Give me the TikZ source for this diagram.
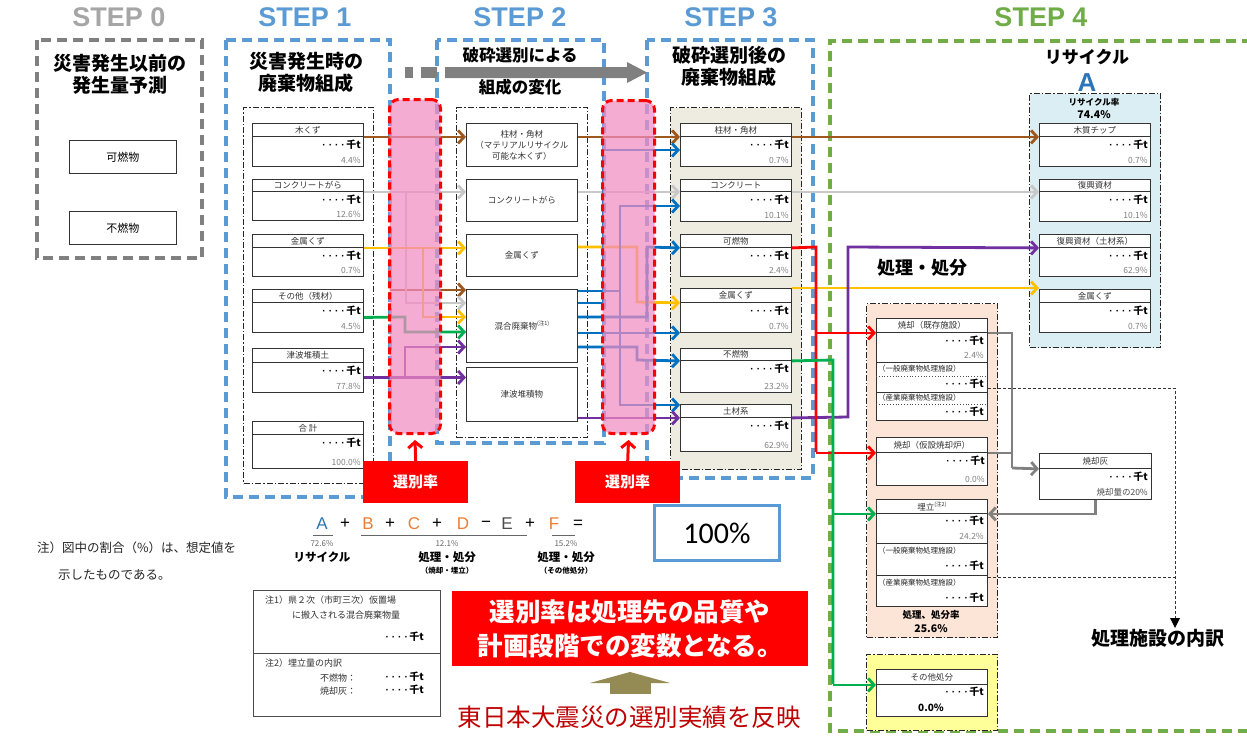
\documentclass[tikz,border=0pt]{standalone}
\usepackage{fontspec}
\setmainfont{Noto Sans CJK JP}
\newfontfamily\latf{Liberation Sans}
\newfontfamily\calf{Carlito}
\usetikzlibrary{arrows.meta,calc}
\definecolor{brownc}{RGB}{158,88,30}
\definecolor{grayc}{RGB}{200,200,200}
\definecolor{yelc}{RGB}{255,192,0}
\definecolor{greenc}{RGB}{0,176,80}
\definecolor{purc}{RGB}{112,48,160}
\definecolor{bluec}{RGB}{0,112,192}
\definecolor{redc}{RGB}{255,0,0}
\definecolor{ashc}{RGB}{128,128,128}
\definecolor{stepblue}{RGB}{91,155,213}
\definecolor{stepgreen}{RGB}{112,173,71}
\definecolor{stepgray}{RGB}{128,128,128}
\definecolor{steptext}{RGB}{166,166,166}
\definecolor{pinkc}{RGB}{242,140,195}
\definecolor{beigec}{RGB}{238,236,225}
\definecolor{recyc}{RGB}{218,238,243}
\definecolor{procc}{RGB}{252,228,214}
\definecolor{othc}{RGB}{255,255,153}
\definecolor{blueA}{RGB}{46,117,182}
\definecolor{orangec}{RGB}{237,125,49}
\definecolor{olivec}{RGB}{148,138,84}
\definecolor{darkred}{RGB}{192,0,0}
\newcommand\fsz[2]{\fontsize{#1}{#2}\selectfont}
\newcommand\qdots{{\latf\bfseries ·\hspace{3pt}·\hspace{3pt}·\hspace{3pt}·\hspace{1.5pt}}\textbf{千t}}
\newcommand\mkbox[7]{%
  \node[hbox, minimum height={#4-#3}] (#1) at (#2,#3) {#6};
  \node[bbox, minimum height={#5-#4}] (#1b) at (#2,#4) {};
  \node[qty] (#1q) at ($(#1b.north east)+(-3,9)$) {\qdots};
  \node[pct] (#1p) at ($(#1b.south east)+(-3,-7)$) {#7};
}
\begin{document}
\begin{tikzpicture}[x=1pt,y=-1pt,
  stepframe/.style={line width=3.5pt, dash pattern=on 10pt off 6pt},
  ddbox/.style={draw=black!85, line width=1.1pt, dash pattern=on 6pt off 2pt on 1.5pt off 2pt, inner sep=0pt, anchor=north west},
  hbox/.style={draw=black!80, line width=0.9pt, minimum width=111pt, inner sep=0pt, anchor=north west, font=\fsz{8.5}{9}, text=black!80, fill=white},
  bbox/.style={draw=black!80, line width=0.9pt, minimum width=111pt, inner sep=0pt, anchor=north west, fill=white},
  qty/.style={anchor=east, inner sep=0pt, font=\fsz{10}{10}},
  pct/.style={anchor=east, inner sep=0pt, font=\fsz{8.5}{10}, text=black!50},
  sub/.style={anchor=west, inner sep=0pt, font=\fsz{7.5}{9}, text=black!85},
  s2box/.style={draw=black!80, line width=0.9pt, minimum width=111pt, inner sep=0pt, anchor=north west, align=center, font=\fsz{8.5}{11}, text=black!80, fill=white},
  conn/.style={line width=2.8pt},
  arr/.style={-{Straight Barb[length=6pt,width=13pt]}},
  title/.style={font=\bfseries\fsz{19}{22}, align=center, inner sep=0pt},
  steplbl/.style={font=\latf\bfseries\fsz{27}{30}, inner sep=0pt},
  selbox/.style={fill=red, text=white, font=\bfseries\fsz{15}{18}, minimum width=105pt, minimum height=42pt, inner sep=0pt, anchor=north west},
  band/.style={draw=red, line width=3pt, dash pattern=on 7pt off 4pt, rounded corners=9pt, fill=pinkc, fill opacity=0.72, inner sep=0pt, anchor=north west},
  flab/.style={font=\latf\fsz{17}{18}, inner sep=0pt},
  small/.style={font=\fsz{8}{9}, text=black!60, inner sep=0pt},
  blab/.style={font=\bfseries\fsz{11.5}{12}, inner sep=0pt},
  note/.style={font=\fsz{9}{10}, text=black!80, inner sep=0pt, anchor=west},
]
\useasboundingbox[fill=white] (0,0) rectangle (1247,736);

% ---------- step frames ----------
\draw[stepframe, stepgray] (37,40) rectangle (202,258);
\draw[stepframe, stepblue] (226,40) rectangle (390,497);
\draw[stepframe, stepblue] (437,40) rectangle (604,443);
\draw[stepframe, stepblue] (647,40) rectangle (813,478);
\draw[stepframe, stepgreen] (1252,41) -- (830,41) -- (830,731) -- (1252,731);

% ---------- step labels ----------
\node[steplbl, text=steptext] (st0) at (119,17) {STEP 0};
\node[steplbl, text=stepblue] (st1) at (305,17) {STEP 1};
\node[steplbl, text=stepblue] (st2) at (520,17) {STEP 2};
\node[steplbl, text=stepblue] (st3) at (731,17) {STEP 3};
\node[steplbl, text=stepgreen] (st4) at (1041,17) {STEP 4};

% ---------- titles ----------
\node[title] (t0) at (120,74) {災害発生以前の\\発生量予測};
\node[title] (t1) at (306,72) {災害発生時の\\廃棄物組成};
\node[title] (t3) at (729,66) {破砕選別後の\\廃棄物組成};
\node[font=\bfseries\fsz{16.5}{18}, inner sep=0pt] (t2a) at (520,55) {破砕選別による};
\node[font=\bfseries\fsz{16.5}{18}, inner sep=0pt] (t2b) at (520,87) {組成の変化};
% big grey arrow
\fill[ashc] (405,67) rectangle (413,78);
\fill[ashc] (421,67) rectangle (437,78);
\fill[ashc] (445,67) -- (627,67) -- (627,62) -- (647,72.5) -- (627,83) -- (627,78) -- (445,78) -- cycle;

% ---------- STEP 0 ----------
\node[draw=black!80, line width=0.9pt, minimum width=107pt, minimum height=33pt, anchor=north west, font=\fsz{11}{12}, inner sep=0pt] (k0) at (69,140) {可燃物};
\node[draw=black!80, line width=0.9pt, minimum width=107pt, minimum height=33pt, anchor=north west, font=\fsz{11}{12}, inner sep=0pt] (f0) at (69,211) {不燃物};

% ---------- inner dash-dot boxes ----------
\node[ddbox, minimum width=130pt, minimum height=376pt] (in1) at (243,107) {};
\node[ddbox, minimum width=131pt, minimum height=330pt] (in2) at (456,107) {};
\node[ddbox, fill=beigec, minimum width=131pt, minimum height=362pt] (in3) at (670,107) {};
\node[ddbox, fill=recyc, minimum width=131pt, minimum height=254pt] (in4) at (1029,93) {};
\node[ddbox, fill=procc, minimum width=131pt, minimum height=334pt] (in5) at (866,303) {};
\node[ddbox, fill=othc, minimum width=131pt, minimum height=76pt] (in6) at (866,654) {};

% ---------- STEP 1 boxes ----------
\mkbox{s1a}{252}{123}{136}{166}{木くず}{4.4\%}
\mkbox{s1b}{252}{179}{191}{220}{コンクリートがら}{12.6\%}
\mkbox{s1c}{252}{234}{247}{276}{金属くず}{0.7\%}
\mkbox{s1d}{252}{289}{302}{332}{その他（残材）}{4.5\%}
\mkbox{s1e}{252}{348}{362}{392}{津波堆積土}{77.8\%}
\mkbox{s1f}{252}{421}{434}{468}{合\ 計}{100.0\%}

% ---------- STEP 2 boxes ----------
\node[s2box, minimum height=43pt] (s2a) at (466,123) {柱材・角材\\（マテリアルリサイクル\\可能な木くず）};
\node[s2box, minimum height=42pt] (s2b) at (466,179) {コンクリートがら};
\node[s2box, minimum height=42pt] (s2c) at (466,234) {金属くず};
\node[s2box, minimum height=73pt] (s2d) at (466,289) {混合廃棄物\raisebox{4pt}{\fsz{5.5}{6}(注1)}};
\node[s2box, minimum height=54pt] (s2e) at (466,367) {津波堆積物};

% ---------- STEP 3 boxes ----------
\mkbox{s3a}{680}{123}{136}{166}{柱材・角材}{0.7\%}
\mkbox{s3b}{680}{179}{191}{221}{コンクリート}{10.1\%}
\mkbox{s3c}{680}{234}{247}{276}{可燃物}{2.4\%}
\mkbox{s3d}{680}{288}{302}{332}{金属くず}{0.7\%}
\mkbox{s3e}{680}{348}{360}{392}{不燃物}{23.2\%}
\mkbox{s3f}{680}{404}{417}{451}{土材系}{62.9\%}

% ---------- connectors STEP1 -> STEP2 ----------
\coordinate (b2s) at (390,290);
\coordinate (g1) at (406,191);
\coordinate (g1e) at (406,303);
\coordinate (y1) at (423,247);
\coordinate (y1e) at (423,317);
\coordinate (gr1) at (405,317);
\coordinate (gr1e) at (405,332);
\coordinate (pa) at (405,377);
\coordinate (pb) at (405,347);
\draw[conn,brownc,arr] (s1a.south east) -- (s1a.south east -| s2a.west);
\draw[conn,brownc,arr] (b2s) -- (b2s -| s2d.west);
\draw[conn,grayc,arr] (s1b.south east) -- (s1b.south east -| s2b.west);
\draw[conn,grayc,arr] (g1) -- (g1e) -- (g1e -| s2d.west);
\draw[conn,yelc,arr] (s1c.south east) -- (s1c.south east -| s2c.west);
\draw[conn,yelc,arr] (y1) -- (y1e) -- (y1e -| s2d.west);
\draw[conn,greenc,arr] (s1db.east) -- (gr1) -- (gr1e) -- (gr1e -| s2d.west);
\draw[conn,purc,arr] (s1eb.east) -- (s1eb.east -| s2e.west);
\draw[conn,purc,arr] (pa) -- (pb) -- (pb -| s2d.west);

% ---------- connectors STEP2 -> STEP3 ----------
\coordinate (y2a) at (637,247);
\coordinate (y2b) at (637,302);
\coordinate (bl1a) at (603,303);
\coordinate (bl1b) at (603,150);
\coordinate (bl2a) at (620,291);
\coordinate (bl2b) at (620,206);
\coordinate (bl2c) at (620,405);
\coordinate (bl3a) at (647,317);
\coordinate (bl3b) at (647,247);
\coordinate (bl5a) at (637,347);
\coordinate (bl5b) at (637,360);
\draw[conn,brownc,arr] (s2a.east |- s3a.south west) -- (s3a.south west);
\draw[conn,grayc,arr] (s2b.east |- s3b.south west) -- (s3b.south west);
\draw[conn,yelc,arr] (s2c.east |- y2a) -- (y2a) -- (y2b) -- (s3d.south west);
\draw[conn,bluec,arr] (s2d.east |- bl1a) -- (bl1a) -- (bl1b) -- (bl1b -| s3a.west);
\draw[conn,bluec,arr] (s2d.east |- bl2a) -- (bl2a) -- (bl2b) -- (bl2b -| s3b.west);
\draw[conn,bluec,arr] (bl2a) -- (bl2c) -- (bl2c -| s3f.west);
\draw[conn,bluec,arr] (s2d.east |- bl3a) -- (bl3a) -- (bl3b) -- (s3c.south west);
\draw[conn,bluec,arr] (s2d.east |- s3db.south west) -- (s3db.south west);
\draw[conn,bluec,arr] (s2d.east |- bl5a) -- (bl5a) -- (bl5b) -- (s3e.south west);
\draw[conn,purc,arr] (s2e.east |- s3f.south west) -- (s3f.south west);

% ---------- selection-rate bands ----------
\node[band, minimum width=51pt, minimum height=334pt] (band1) at (388,98) {};
\node[band, minimum width=52pt, minimum height=333pt] (band2) at (601,99) {};
\node[selbox] (sel1) at (363,461) {選別率};
\node[selbox] (sel2) at (575,461) {選別率};
\draw[red, line width=3pt, -{Straight Barb[length=6pt,width=14pt]}] (sel1.north) -- ([yshift=-5pt]band1.south);
\draw[red, line width=3pt, -{Straight Barb[length=6pt,width=14pt]}] (sel2.north) -- ([yshift=-5pt]band2.south);

% ---------- STEP 4 ----------
\node[font=\bfseries\fsz{17}{18}, inner sep=0pt] (rec) at (1087,57) {リサイクル};
\node[font=\latf\bfseries\fsz{26}{28}, text=blueA, inner sep=0pt] (Alab) at (1087,83) {A};
\node[font=\bfseries\fsz{8.5}{9}, inner sep=0pt] (rr1) at (1094,102) {リサイクル率};
\node[font=\bfseries\fsz{10.5}{11}, inner sep=0pt] (rr2) at (1094,115) {74.4\%};
\mkbox{r1}{1039}{123}{136}{166}{木質チップ}{0.7\%}
\mkbox{r2}{1039}{179}{191}{221}{復興資材}{10.1\%}
\mkbox{r3}{1039}{234}{247}{276}{復興資材（土材系）}{62.9\%}
\mkbox{r4}{1039}{289}{302}{332}{金属くず}{0.7\%}

\node[font=\bfseries\fsz{18}{20}, inner sep=0pt] (shori) at (922,268) {処理・処分};

% incineration (existing)
\node[hbox, minimum height=14pt] (p1) at (876,318) {焼却（既存施設）};
\node[bbox, minimum height=88pt] (p1b) at (876,332) {};
\node[qty] (p1q) at (984,341) {\qdots};
\node[pct] (p1p) at (984,355) {2.4\%};
\draw[black!80, line width=0.9pt] (876,362) -- (987,362);
\node[sub] (p1s1) at (878,369) {（一般廃棄物処理施設）};
\draw[black!70, dotted, line width=0.8pt] (876,376) -- (987,376);
\node[qty] (p1q2) at (984,384) {\qdots};
\draw[black!80, line width=0.9pt] (876,392) -- (987,392);
\node[sub] (p1s2) at (878,398) {（産業廃棄物処理施設）};
\draw[black!70, dotted, line width=0.8pt] (876,404) -- (987,404);
\node[qty] (p1q3) at (984,412) {\qdots};

% incineration (temporary)
\mkbox{p2}{876}{437}{452}{485}{焼却（仮設焼却炉）}{0.0\%}

% landfill
\node[hbox, minimum height=14pt] (p3) at (876,499) {埋立\raisebox{4pt}{\fsz{5.5}{6}(注2)}};
\node[bbox, minimum height=93pt] (p3b) at (876,513) {};
\node[qty] (p3q) at (984,521) {\qdots};
\node[pct] (p3p) at (984,536) {24.2\%};
\draw[black!80, line width=0.9pt] (876,543) -- (987,543);
\node[sub] (p3s1) at (878,551) {（一般廃棄物処理施設）};
\node[qty] (p3q2) at (984,566) {\qdots};
\draw[black!80, line width=0.9pt] (876,575) -- (987,575);
\node[sub] (p3s2) at (878,583) {（産業廃棄物処理施設）};
\node[qty] (p3q3) at (984,598) {\qdots};
\node[font=\bfseries\fsz{9.5}{10}, inner sep=0pt] (pr1) at (931,615) {処理、処分率};
\node[font=\bfseries\fsz{10.5}{11}, inner sep=0pt] (pr2) at (931,629) {25.6\%};

% other disposal
\node[hbox, minimum height=15pt] (o1) at (876,669) {その他処分};
\node[bbox, minimum height=32pt] (o1b) at (876,684) {};
\node[qty] (o1q) at (984,692) {\qdots};
\node[font=\bfseries\fsz{10}{11}, inner sep=0pt] (o1p) at (931,708) {0.0\%};

% ash
\node[hbox, minimum width=112pt, minimum height=15pt] (ash) at (1039,453) {焼却灰};
\node[bbox, minimum width=112pt, minimum height=31pt] (ashb) at (1039,468) {};
\node[qty] (ashq) at (1148,477) {\qdots};
\node[pct, text=black!70] (ashp) at (1148,492) {焼却量の20\%};

\node[font=\bfseries\fsz{19}{20}, inner sep=0pt] (uchi) at (1158,638) {処理施設の内訳};

% ---------- connectors STEP3 -> STEP4 ----------
\coordinate (pu1) at (848,417);
\coordinate (pu2) at (848,247);
\coordinate (rd1) at (816,247);
\coordinate (rd2) at (816,452);
\coordinate (gn1) at (833,360);
\coordinate (gn2) at (833,684);
\coordinate (ax) at (1012,468);
\coordinate (dt1) at (1175,388);
\coordinate (dt2) at (1175,618);
\coordinate (dt3) at (1175,577);
\draw[conn,brownc,arr] (s3a.south east) -- (r1.south west);
\draw[conn,grayc,arr] (s3b.south east) -- (r2.south west);
\draw[conn,yelc,arr] (s3d.north east) -- (s3d.north east -| r4.west);
\draw[conn,purc,arr] (s3f.south east) -- (pu1) -- (pu2) -- (r3.south west);
\draw[conn,redc] (s3c.south east) -- (rd1) -- (rd2);
\draw[conn,redc,arr] (rd1 |- p1.south west) -- (p1.south west);
\draw[conn,redc,arr] (rd1 |- p2.south west) -- (p2.south west);
\draw[conn,greenc] (s3e.south east) -- (gn1) -- (gn2);
\draw[conn,greenc,arr] (gn1 |- p3.south west) -- (p3.south west);
\draw[conn,greenc,arr] (gn1 |- o1.south west) -- (o1.south west);
\draw[conn,ashc] (p1.south east) -| (ax);
\draw[conn,ashc] (p2.south east) -| (ax);
\draw[conn,ashc,arr] (ax) -- (ash.south west);
\draw[conn,ashc,arr] (ashb.south) |- (p3.south east);
\draw[black!80, line width=0.8pt, dash pattern=on 3pt off 2pt] (p1b.east |- dt1) -- (dt1) -- (dt2);
\fill[black] (dt2) ++(-5,0) -- ++(10,0) -- ++(-5,10) -- cycle;
\draw[black!80, line width=0.8pt, dash pattern=on 3pt off 2pt] (p3b.east |- dt3) -- (dt3);

% ---------- formula ----------
\node[flab, text=blueA] (fA) at (322,524) {A};
\node[flab] (fp1) at (345,524) {+};
\node[flab, text=orangec] (fB) at (368,524) {B};
\node[flab] (fp2) at (390,524) {+};
\node[flab, text=orangec] (fC) at (414,524) {C};
\node[flab] (fp3) at (437,524) {+};
\node[flab, text=orangec] (fD) at (463,524) {D};
\node[flab] (fm) at (486,524) {−};
\node[flab, text=black!70] (fE) at (507,524) {E};
\node[flab] (fp4) at (530,524) {+};
\node[flab, text=orangec] (fF) at (554,524) {F};
\node[flab] (feq) at (578,524) {=};
\draw[black!60, line width=0.9pt] (313,535) -- (333,535);
\draw[black!60, line width=0.9pt] (361,535) -- (527,535);
\draw[black!60, line width=0.9pt] (552,535) -- (575,535);
\node[small] (v1) at (322,544) {72.6\%};
\node[blab] (l1) at (322,557) {リサイクル};
\node[small] (v2) at (447,544) {12.1\%};
\node[blab] (l2) at (447,557) {処理・処分};
\node[font=\bfseries\fsz{7.5}{8}, inner sep=0pt] (l2b) at (447,571) {（焼却・埋立）};
\node[small] (v3) at (566,544) {15.2\%};
\node[blab] (l3) at (566,557) {処理・処分};
\node[font=\bfseries\fsz{7.5}{8}, inner sep=0pt] (l3b) at (566,571) {（その他処分）};
\node[draw=stepblue, line width=3pt, minimum width=125pt, minimum height=55pt, anchor=north west, inner sep=0pt, font=\calf\fsz{30}{32}] (hund) at (653,504) {100\%};

% ---------- left note ----------
\node[anchor=west, inner sep=0pt, font=\fsz{12.5}{14}, text=black!85] (ln1) at (37,548) {注）図中の割合（\%）は、想定値を};
\node[anchor=west, inner sep=0pt, font=\fsz{12.5}{14}, text=black!85] (ln2) at (58,575) {示したものである。};

% ---------- note box ----------
\node[draw=black!70, line width=0.9pt, minimum width=187pt, minimum height=126pt, anchor=north west, inner sep=0pt] (nb) at (253,590) {};
\draw[black!70, line width=0.9pt] (253,653) -- (440,653);
\node[note] (n1) at (265,600) {注1）県２次（市町三次）仮置場};
\node[note] (n2) at (292,615) {に搬入される混合廃棄物量};
\node[qty] (n3) at (424,637) {\qdots};
\node[note] (n4) at (265,663) {注2）埋立量の内訳};
\node[note] (n5) at (320,678) {不燃物：};
\node[qty] (n6) at (424,677) {\qdots};
\node[note] (n7) at (320,691) {焼却灰：};
\node[qty] (n8) at (424,690) {\qdots};

% ---------- message ----------
\node[fill=red, minimum width=356pt, minimum height=75pt, anchor=north west, inner sep=0pt, text=white, font=\bfseries\fsz{25.5}{34}, align=center] (msg) at (452,591) {選別率は処理先の品質や\\計画段階での変数となる。};
\node[font=\fsz{24.5}{26}, text=darkred, inner sep=0pt] (jisseki) at (629,717) {東日本大震災の選別実績を反映};
\coordinate (oa) at (630,694);
\coordinate (ob) at (630,672);
\draw[olivec, line width=41pt, -{Triangle[length=11pt,width=80pt]}] (oa) -- (ob);
\end{tikzpicture}
\end{document}
